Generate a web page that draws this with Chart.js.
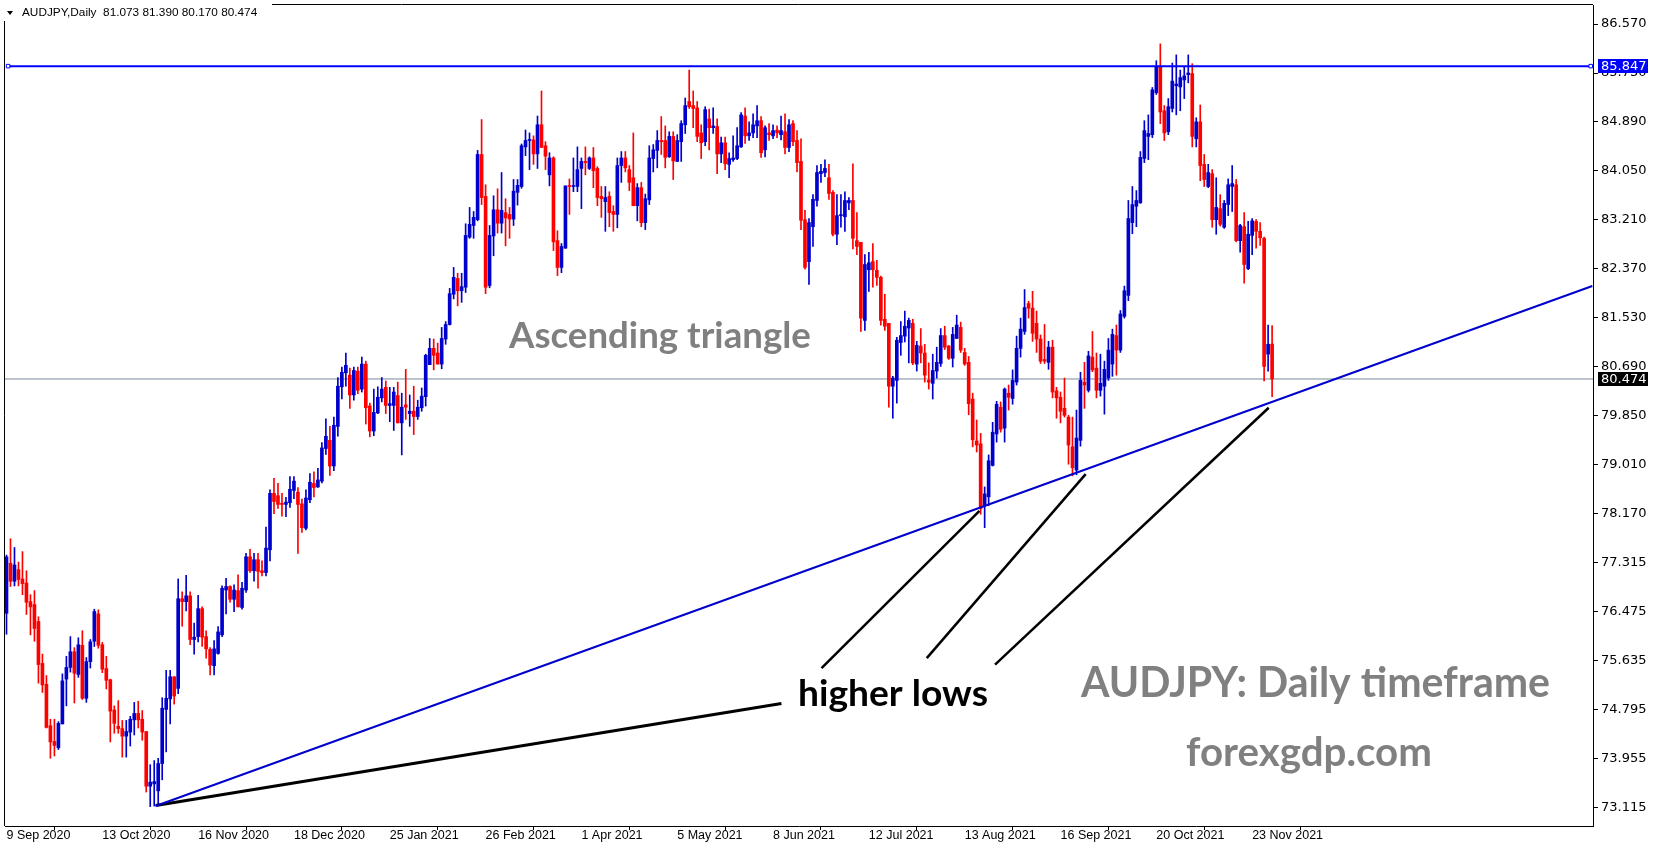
<!DOCTYPE html>
<html>
<head>
<meta charset="utf-8">
<script src="https://cdn.jsdelivr.net/npm/chart.js@4.4.1/dist/chart.umd.min.js"></script>
<style>
html,body{margin:0;padding:0;background:#fff;overflow:hidden}
canvas{display:block}
</style>
</head>
<body>
<canvas id="chart" width="1653" height="850"></canvas>
<script>
/* ================= DATA ================= */
const dateLabels=['9 Sep 2020','13 Oct 2020','16 Nov 2020','18 Dec 2020','25 Jan 2021','26 Feb 2021','1 Apr 2021','5 May 2021','8 Jun 2021','12 Jul 2021','13 Aug 2021','16 Sep 2021','20 Oct 2021','23 Nov 2021'];
const barsPerLabel=24;
const yTickLabels=['86.570','85.730','84.890','84.050','83.210','82.370','81.530','80.690','79.850','79.010','78.170','77.315','76.475','75.635','74.795','73.955','73.115'];

const open=[
76.45,77.31,77.00,77.20,77.04,76.97,76.65,76.60,76.31,75.59,
75.23,74.52,74.25,74.14,74.55,75.32,75.52,75.79,75.40,75.90,
74.99,75.62,75.97,76.44,75.91,75.50,75.31,74.79,74.51,74.47,
74.34,74.41,74.62,74.73,74.63,74.42,73.48,73.52,73.40,73.87,
74.80,74.98,75.36,75.16,76.70,76.65,76.75,76.00,76.05,76.53,
76.05,75.83,75.55,75.76,76.08,76.85,76.91,76.69,76.84,76.55,
76.85,77.42,77.18,77.37,77.18,77.15,77.54,78.51,78.47,78.34,
78.32,78.35,78.56,78.53,78.33,77.91,78.40,78.68,78.62,78.72,
79.28,79.42,78.98,79.66,80.34,80.58,80.54,80.20,80.61,80.30,
80.73,80.01,79.58,79.89,80.15,80.33,80.02,80.02,80.19,79.72,
80.03,79.88,79.92,79.83,79.98,80.17,80.72,81.00,80.92,80.73,
81.16,81.41,81.93,82.20,81.99,82.05,82.91,83.11,83.21,84.33,
83.61,82.08,82.93,83.38,83.15,83.33,83.30,83.22,83.68,83.78,
84.46,84.57,84.58,84.34,84.84,84.48,83.98,84.27,82.85,82.39,
82.72,83.79,83.78,83.78,84.09,84.21,84.09,84.27,84.09,83.61,
83.52,83.61,83.35,83.30,84.14,84.27,84.07,83.93,83.45,83.76,
83.16,83.55,84.26,84.40,84.57,84.57,84.29,84.64,84.21,84.55,
84.84,85.24,85.17,85.13,84.70,84.55,84.94,84.79,84.81,84.34,
84.53,84.16,84.24,84.26,84.46,84.99,84.65,84.70,84.82,84.91,
84.41,84.70,84.65,84.75,84.67,84.72,84.45,84.86,84.57,84.21,
83.21,82.49,83.09,83.54,84.00,84.02,83.93,83.68,82.96,83.28,
83.26,83.50,83.54,82.85,82.82,81.48,82.35,82.49,82.34,82.22,
81.50,81.43,80.35,80.45,81.10,81.21,81.35,81.43,80.73,81.04,
80.92,80.45,80.40,80.61,80.74,81.22,81.04,80.83,81.17,81.36,
80.93,80.76,80.13,79.41,79.36,78.30,78.45,78.99,79.53,79.99,
79.63,80.23,80.14,80.42,81.00,81.29,81.77,81.69,81.43,81.16,
80.81,80.76,81.02,80.27,80.16,79.97,79.82,79.31,78.91,79.42,
80.42,80.28,80.85,80.66,80.28,80.35,80.49,80.73,81.22,80.97,
81.55,81.91,83.16,83.44,83.50,84.26,84.64,84.67,85.39,85.84,
85.08,84.72,85.12,85.51,85.49,85.61,85.70,85.72,84.60,84.89,
84.16,83.78,84.00,83.21,83.40,83.08,83.47,83.78,83.81,82.85,
83.09,82.37,82.94,83.18,83.01,82.89,80.90,81.073];

const high=[
77.45,77.73,77.58,77.33,77.51,77.18,76.77,76.84,76.39,75.75,
75.38,74.63,74.63,74.59,75.41,75.71,76.05,75.86,76.03,76.15,
75.69,76.00,76.52,76.51,75.95,75.71,75.32,74.86,74.95,74.61,
74.61,74.68,74.92,74.94,74.78,74.42,73.85,73.92,73.96,75.00,
75.47,75.47,75.36,77.04,76.82,77.10,76.82,76.28,76.76,76.56,
76.15,75.86,75.98,76.22,76.92,77.05,76.92,76.94,77.11,76.98,
77.48,77.55,77.48,77.48,77.35,77.93,78.57,78.77,78.68,78.51,
78.44,78.80,78.80,78.61,78.41,78.57,78.85,78.88,78.94,79.38,
79.79,79.66,79.82,80.50,80.68,80.92,80.66,80.68,80.68,80.85,
80.78,80.06,80.30,80.34,80.50,80.44,80.33,80.33,80.42,80.23,
80.64,80.20,80.35,80.11,80.32,80.90,81.17,81.16,81.09,81.36,
81.46,82.03,82.39,82.29,82.29,83.14,83.42,83.35,84.40,84.93,
83.81,83.11,83.62,83.74,84.02,83.57,83.42,83.90,83.90,84.51,
84.75,84.70,84.65,84.99,85.42,84.55,84.36,84.29,83.02,82.80,
83.79,83.91,84.27,84.46,84.27,84.46,84.29,84.45,84.12,83.78,
83.78,83.69,83.45,84.27,84.38,84.38,84.14,84.70,83.83,83.85,
83.65,84.48,84.50,84.74,84.98,84.82,84.72,84.72,84.67,84.91,
85.30,85.78,85.42,85.24,84.84,85.15,85.11,85.13,84.94,84.63,
84.63,84.36,84.65,84.79,85.05,85.13,84.89,85.03,85.17,84.98,
84.82,84.86,84.84,84.82,84.99,85.03,84.93,84.91,84.74,84.60,
83.37,83.23,83.64,84.14,84.16,84.24,84.16,83.71,83.64,83.64,
83.69,83.59,84.17,83.33,82.82,82.61,82.65,82.80,82.51,82.24,
81.93,81.43,80.52,81.19,81.46,81.64,81.52,81.50,81.12,81.34,
81.07,80.75,80.90,81.02,81.34,81.38,81.05,81.36,81.57,81.45,
81.00,80.86,80.23,79.77,79.54,78.62,79.17,79.73,80.09,80.08,
80.32,80.37,80.63,81.21,81.52,82.01,81.81,81.98,81.64,81.23,
81.41,81.12,81.14,80.33,80.25,80.49,79.85,79.82,79.94,80.59,
80.76,80.95,81.29,80.92,80.90,80.78,81.17,81.33,81.40,81.65,
82.07,83.54,83.78,83.71,84.38,84.91,85.01,85.48,85.94,86.23,
85.17,85.29,85.90,86.04,85.78,85.84,86.04,85.89,84.96,85.18,
84.33,84.16,84.07,83.93,83.64,83.54,83.91,84.14,83.90,83.13,
83.33,83.18,83.23,83.21,83.16,82.91,81.40,81.390];

const low=[
76.09,76.91,76.92,76.92,76.77,76.43,76.08,75.97,75.25,75.09,
74.48,73.96,74.00,74.11,74.55,74.86,75.44,74.91,75.35,74.97,
74.92,75.51,75.88,75.85,75.43,75.15,74.24,74.39,74.39,73.98,
73.98,74.17,74.36,74.48,74.27,73.38,73.13,73.14,73.18,73.59,
74.07,74.55,74.89,75.07,76.23,76.49,75.91,75.75,75.96,75.88,
75.68,75.39,75.39,75.75,76.05,76.44,76.64,76.48,76.56,76.52,
76.81,77.15,77.00,76.88,77.09,77.09,77.35,78.16,78.25,78.12,
78.11,78.27,78.42,77.48,77.84,77.88,78.35,78.45,78.61,78.69,
79.18,78.82,78.90,79.49,80.13,80.35,79.97,80.11,80.22,80.25,
79.70,79.48,79.50,79.88,80.08,79.88,79.74,79.59,79.72,79.17,
79.78,79.66,79.52,79.78,79.92,80.01,80.72,80.63,80.73,80.65,
81.07,81.40,81.85,81.73,81.79,81.96,82.89,82.89,83.19,83.47,
81.94,82.04,82.59,82.98,82.98,82.76,82.89,83.11,83.46,83.75,
84.31,84.07,84.16,84.09,84.45,84.07,83.79,82.68,82.25,82.30,
82.72,83.30,83.69,83.69,83.40,83.98,84.07,83.76,83.45,83.25,
83.01,83.09,83.01,83.07,83.85,84.03,83.71,83.45,83.19,83.09,
83.04,83.47,84.03,84.10,84.33,84.10,84.28,83.90,84.21,84.21,
84.69,85.12,84.79,84.55,84.26,84.48,84.41,84.69,84.00,84.19,
84.07,83.93,84.21,84.24,84.45,84.52,84.57,84.62,84.62,84.28,
84.29,84.57,84.60,84.62,84.58,84.34,84.38,84.48,84.03,83.04,
82.36,82.10,82.75,83.44,83.85,83.95,83.56,82.93,82.78,83.08,
83.01,83.38,82.71,82.61,81.29,81.31,81.98,82.05,82.08,81.40,
81.31,79.99,79.80,80.06,80.88,81.11,80.75,80.72,80.61,80.75,
80.42,80.30,80.13,80.49,80.69,80.98,80.81,80.68,81.17,80.93,
80.71,79.86,79.31,79.22,78.15,77.92,78.30,78.98,79.39,79.56,
79.39,79.94,80.04,80.37,80.85,81.24,81.52,81.12,80.93,80.74,
80.74,80.64,80.15,79.80,79.72,79.82,79.01,78.81,78.83,79.32,
79.97,80.25,80.60,80.15,80.18,79.87,80.45,80.52,80.54,80.93,
81.52,81.82,82.97,83.09,83.49,84.19,84.24,84.62,85.36,84.86,
84.57,84.67,85.06,85.01,85.08,85.29,85.56,84.46,84.46,83.88,
83.78,83.76,83.08,82.96,83.10,83.06,83.28,83.35,82.83,82.65,
82.12,82.35,82.61,82.72,82.77,80.44,80.61,80.170];

const close=[
77.42,77.00,77.28,77.03,76.96,76.64,76.56,76.19,75.57,75.22,
74.49,74.24,74.18,74.56,75.29,75.52,75.79,75.42,75.91,74.99,
75.62,75.96,76.48,75.90,75.49,75.30,74.77,74.56,74.47,74.34,
74.42,74.63,74.73,74.62,74.41,73.48,73.55,73.56,73.87,74.82,
74.99,75.36,75.03,76.70,76.65,76.75,76.00,76.04,76.53,76.04,
75.84,75.56,75.84,76.13,76.88,76.91,76.69,76.85,76.56,76.88,
77.42,77.18,77.37,77.17,77.15,77.57,78.51,78.37,78.32,78.32,
78.36,78.58,78.72,78.32,77.92,78.43,78.70,78.61,78.74,79.29,
79.49,78.98,79.68,80.35,80.59,80.71,80.20,80.62,80.28,80.73,
79.98,79.58,79.90,80.16,80.30,80.02,80.05,80.25,79.72,79.99,
79.99,79.92,79.83,79.99,80.18,80.88,81.00,80.88,80.73,81.17,
81.41,81.94,82.22,81.99,82.06,82.94,83.13,83.25,84.33,83.59,
82.05,82.94,83.38,83.15,83.37,83.24,83.22,83.70,83.80,84.48,
84.57,84.58,84.34,84.84,84.45,84.30,84.27,82.83,82.39,82.75,
83.79,83.78,83.79,84.07,84.21,84.19,84.27,84.05,83.59,83.57,
83.59,83.33,83.30,84.14,84.27,84.10,83.85,83.45,83.76,83.16,
83.57,84.27,84.41,84.57,84.55,84.28,84.64,84.22,84.57,84.86,
85.17,85.15,85.12,84.64,84.53,85.10,84.79,84.82,84.34,84.53,
84.17,84.26,84.27,84.48,85.01,84.65,84.70,84.84,84.91,84.36,
84.79,84.67,84.74,84.70,84.74,84.45,84.84,84.55,84.19,83.20,
82.39,83.16,83.56,84.02,84.04,84.09,83.66,82.96,83.28,83.29,
83.54,83.54,82.89,82.75,81.52,82.44,82.47,82.35,82.22,81.48,
81.38,80.35,80.49,81.14,81.22,81.38,81.48,80.75,81.05,80.92,
80.54,80.42,80.62,80.76,81.22,81.02,80.83,81.24,81.40,80.97,
80.73,80.05,79.43,79.34,78.25,78.50,79.07,79.56,80.04,79.61,
80.30,80.16,80.45,81.00,81.33,81.70,81.69,81.26,81.16,80.78,
80.78,81.02,80.25,80.15,79.92,79.85,79.34,78.95,79.46,80.45,
80.37,80.87,80.63,80.28,80.40,80.64,80.97,81.24,80.97,81.59,
81.99,83.23,83.47,83.54,84.28,84.74,84.69,85.44,85.84,85.06,
84.70,85.15,85.59,85.54,85.65,85.68,85.73,84.64,84.89,84.14,
83.90,84.02,83.21,83.42,83.13,83.49,83.81,83.83,82.85,83.11,
82.44,82.96,83.19,83.01,82.90,80.69,81.07,80.474];

const resistance=85.847;
const lastPrice=80.474;
const headerText='AUDJPY,Daily  81.073 81.390 80.170 80.474';

/* drawn lines as [bar index, price] pairs */
const supportLine=[[37.35,73.14],[397.2,82.07]];
const baseLine=[[37.35,73.15],[194.1,74.90]];
const arrowLines=[
[[204.15,75.51],[243.7,78.21]],
[[230.5,75.68],[270.3,78.84]],
[[247.6,75.57],[316.15,79.98]]
];

/* ================= SETUP ================= */
const BULL='#0000cd',BEAR='#ff0000';
const xMin=-0.375,xMax=397.375;
const yMax=86.897,yMin=72.797;
const idx=open.map((_,i)=>i);
const colors=idx.map(i=>close[i]>=open[i]?BULL:BEAR);
const yTop=parseFloat(yTickLabels[0]);
const yStep=(yTop-parseFloat(yTickLabels[yTickLabels.length-1]))/(yTickLabels.length-1);

const toPts=pair=>pair.map(p=>({x:p[0],y:p[1]}));
const lineSet=(pts,color,width)=>({
type:'line',data:toPts(pts),borderColor:color,borderWidth:width,
pointRadius:0,order:1,tension:0
});

Chart.defaults.font.family='Liberation Sans';
Chart.defaults.color='#000';

/* frame, header, price boxes and text notes */
const decor={
id:'decor',
beforeDatasetsDraw(chart){
const {ctx,chartArea:a}=chart;
ctx.save();
ctx.strokeStyle='#000';ctx.lineWidth=1;
ctx.beginPath();
ctx.moveTo(a.left-0.5,a.bottom);ctx.lineTo(a.left-0.5,a.top-0.5);ctx.lineTo(a.right,a.top-0.5);
ctx.stroke();
ctx.restore();
},
afterDraw(chart){
const {ctx}=chart;
const ys=chart.scales.y;
ctx.save();
// price boxes
[[resistance,'#0000ff'],[lastPrice,'#000']].forEach(([v,bg])=>{
const y=Math.round(ys.getPixelForValue(v));
ctx.fillStyle=bg;
ctx.fillRect(1598,y-7,50,14);
ctx.fillStyle='#fff';
ctx.font='13px "DejaVu Sans"';
ctx.textAlign='left';ctx.textBaseline='middle';
ctx.fillText(v.toFixed(3),1601,y+0.5);
});
// header
ctx.fillStyle='#fff';
ctx.fillRect(0,0,272,21);
ctx.fillStyle='#000';
ctx.beginPath();ctx.moveTo(7,11);ctx.lineTo(13,11);ctx.lineTo(10,15);ctx.closePath();ctx.fill();
ctx.font='11.8px "Liberation Sans"';
ctx.textAlign='left';ctx.textBaseline='middle';
ctx.fillText(headerText,22,13);
// notes
const note=(txt,x0,x1,base,color)=>{
ctx.font='bold 40px Lato';
const s=40*(x1-x0)/ctx.measureText(txt).width;
ctx.font='bold '+s.toFixed(2)+'px Lato';
ctx.fillStyle=color;ctx.textAlign='left';ctx.textBaseline='alphabetic';
ctx.fillText(txt,x0,base);
};
note('Ascending triangle',509,811,348,'#808080');
note('higher lows',798,988,706,'#000');
note('AUDJPY: Daily timeframe',1081,1550,697,'#808080');
note('forexgdp.com',1186,1432,766,'#808080');
ctx.restore();
}
};

/* ================= CHART ================= */
new Chart(document.getElementById('chart'),{
type:'bar',
data:{datasets:[
{type:'line',data:[{x:xMin,y:lastPrice},{x:xMax,y:lastPrice}],borderColor:'#778899',borderWidth:1,pointRadius:0,order:10},
{data:idx.map(i=>({x:i,y:[low[i],high[i]]})),backgroundColor:colors,barThickness:1,grouped:false,order:9},
{data:idx.map(i=>({x:i,y:[open[i],close[i]]})),backgroundColor:colors,barThickness:3,grouped:false,minBarLength:1,order:8},
{type:'line',data:[{x:0.4,y:resistance},{x:396.8,y:resistance}],borderColor:'#0000ff',borderWidth:2,
pointStyle:'rect',pointRadius:2.5,pointBackgroundColor:'#fff',pointBorderColor:'#0000ff',pointBorderWidth:1,order:1},
lineSet(supportLine,'#0000cd',2),
lineSet(baseLine,'#000',3),
...arrowLines.map(l=>lineSet(l,'#000',2.5))
]},
options:{
responsive:false,
animation:false,
devicePixelRatio:1,
layout:{padding:{left:2,top:3,right:0,bottom:0}},
plugins:{legend:{display:false},tooltip:{enabled:false}},
scales:{
x:{
type:'linear',min:xMin,max:xMax,offset:false,
grid:{drawOnChartArea:false,drawTicks:true,tickLength:4,color:'#000'},
border:{display:true,color:'#000'},
ticks:{autoSkip:false,maxRotation:0,align:'start',labelOffset:0,padding:-2,
font:{size:12.5,family:'Liberation Sans'},color:'#000',
callback:v=>dateLabels[Math.round(v/barsPerLabel)]},
afterBuildTicks:s=>{s.ticks=dateLabels.map((_,k)=>({value:k*barsPerLabel}));},
afterFit:s=>{s.height=24;s.paddingLeft=0;s.paddingRight=0;}
},
y:{
position:'right',min:yMin,max:yMax,
grid:{drawOnChartArea:false,drawTicks:true,tickLength:5,color:'#000'},
border:{display:true,color:'#000'},
ticks:{autoSkip:false,padding:3,font:{size:13,family:'DejaVu Sans'},color:'#000',
callback:v=>yTickLabels[Math.round((yTop-v)/yStep)]},
afterBuildTicks:s=>{s.ticks=yTickLabels.map((_,k)=>({value:yTop-k*yStep}));},
afterFit:s=>{s.width=60;s.paddingTop=0;s.paddingBottom=0;}
}
}
},
plugins:[decor]
});
</script>
</body>
</html>
